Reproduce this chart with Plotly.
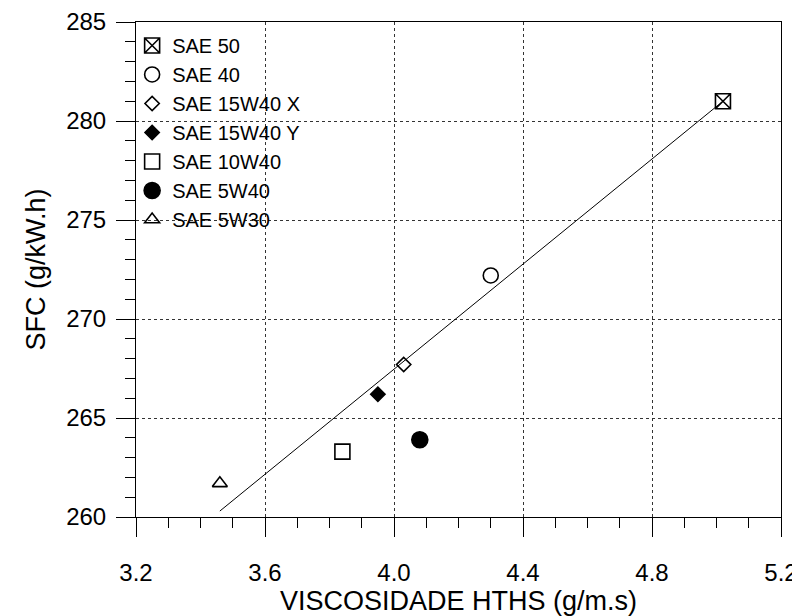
import plotly.graph_objects as go

# Data
oils = ["SAE 50", "SAE 40", "SAE 15W40 X", "SAE 15W40 Y", "SAE 10W40", "SAE 5W40", "SAE 5W30"]
viscosity = [5.02, 4.30, 4.03, 3.95, 3.84, 4.08, 3.46]
sfc = [281.0, 272.2, 267.7, 266.2, 263.3, 263.9, 261.7]
symbols = ["square-x-open", "circle-open", "diamond-open", "diamond", "square-open", "circle", "triangle-up-open"]
sizes = [15, 15, 11, 11, 15, 16, 13]

trend_x = [3.46, 5.02]
trend_y = [260.3, 281.0]

x_ticks = [3.2, 3.6, 4.0, 4.4, 4.8, 5.2]
x_ticklabels = ["3.2", "3.6", "4.0", "4.4", "4.8", "5.2"]
y_ticks = [260, 265, 270, 275, 280, 285]

FONT = "Liberation Sans, Arial, sans-serif"

fig = go.Figure()
fig.add_trace(go.Scatter(x=trend_x, y=trend_y, mode="lines",
                         line=dict(color="black", width=1), showlegend=False,
                         hoverinfo="skip"))
for name, xv, yv, sym, sz in zip(oils, viscosity, sfc, symbols, sizes):
    fig.add_trace(go.Scatter(x=[xv], y=[yv], mode="markers", name=name,
                             marker=dict(symbol=sym, size=sz, color="black",
                                         line=dict(color="black", width=1.6))))

axis_common = dict(showline=True, linecolor="black", linewidth=1, mirror=True,
                   ticks="outside", tickcolor="black", ticklen=19, tickwidth=1,
                   showgrid=True, gridcolor="#333333", griddash="dot", gridwidth=1,
                   zeroline=False, automargin=False,
                   tickfont=dict(family=FONT, size=24, color="black"))

fig.update_xaxes(range=[3.2, 5.2], tickvals=x_ticks, ticktext=x_ticklabels,
                 minor=dict(dtick=0.1, ticks="outside", ticklen=10, tickcolor="black", showgrid=False),
                 ticklabelstandoff=15,
                 title=dict(text="VISCOSIDADE HTHS (g/m.s)", font=dict(family=FONT, size=27, color="black"),
                            standoff=0),
                 **axis_common)
fig.update_yaxes(range=[260, 285], tickvals=y_ticks,
                 minor=dict(dtick=1, ticks="outside", ticklen=10, tickcolor="black", showgrid=False),
                 ticklabelstandoff=5,
                 title=dict(text="SFC (g/kW.h)", font=dict(family=FONT, size=27, color="black"),
                            standoff=12),
                 **axis_common)

# The page body adds an 8 px offset; size the figure so the plot box lands where the reference has it
fig.update_layout(width=792, height=608, plot_bgcolor="white", paper_bgcolor="white",
                  margin=dict(l=128, r=19, t=14, b=99),
                  font=dict(family=FONT, color="black"),
                  legend=dict(x=-0.006, y=0.992, xanchor="left", yanchor="top",
                              bgcolor="rgba(0,0,0,0)", font=dict(family=FONT, size=20, color="black"),
                              tracegroupgap=0, itemwidth=30))

fig.write_html("out.html")
